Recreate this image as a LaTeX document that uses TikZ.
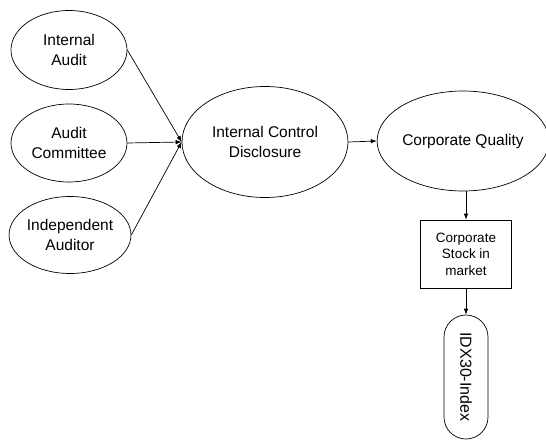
\documentclass[tikz,border=0pt]{standalone}
\usepackage{fontspec}
\setmainfont{Liberation Sans}
\usetikzlibrary{arrows.meta,shapes.geometric}
\begin{document}
\begin{tikzpicture}[x=1pt,y=-1pt,
  oval/.style={draw,ellipse,line width=0.7pt,inner sep=0pt,align=center,font=\fontsize{15.5}{19.5}\selectfont},
  boxnode/.style={draw,rectangle,line width=0.7pt,align=center,inner sep=0pt,font=\fontsize{13.5}{16.5}\selectfont},
  pill/.style={draw,rectangle,rounded corners=22pt,line width=0.7pt,inner sep=0pt,font=\fontsize{16}{19}\selectfont},
  arr/.style={line width=0.7pt,-{Latex[length=6pt,width=4.5pt]}}]
\useasboundingbox (0,0) rectangle (546,441);
\node[oval,minimum width=116pt,minimum height=79pt] (ia) at (69,50) {Internal\\Audit};
\node[oval,minimum width=116pt,minimum height=78pt] (ac) at (69,143) {Audit\\Committee};
\node[oval,minimum width=116pt,minimum height=77pt] (ind) at (70,235) {Independent\\Auditor};
\node[oval,minimum width=166pt,minimum height=111pt] (icd) at (265,142) {Internal Control\\Disclosure};
\node[oval,minimum width=163pt,minimum height=100pt] (cq) at (463,141) {Corporate Quality};
\node[boxnode,minimum width=91pt,minimum height=68pt] (cs) at (466,254) {Corporate\\Stock in\\market};
\node[pill,rotate=-90,minimum width=124pt,minimum height=44pt] (idx) at (466,377) {IDX30-Index};
\draw[arr] (ia.east) -- (icd.west);
\draw[arr] (ac.east) -- (icd.west);
\draw[arr] (ind.east) -- (icd.west);
\draw[arr] (icd.east) -- (cq.west);
\draw[arr] (cq.south -| cs.north) -- (cs.north);
\draw[arr] (cs.south) -- (idx.west);
\end{tikzpicture}
\end{document}
